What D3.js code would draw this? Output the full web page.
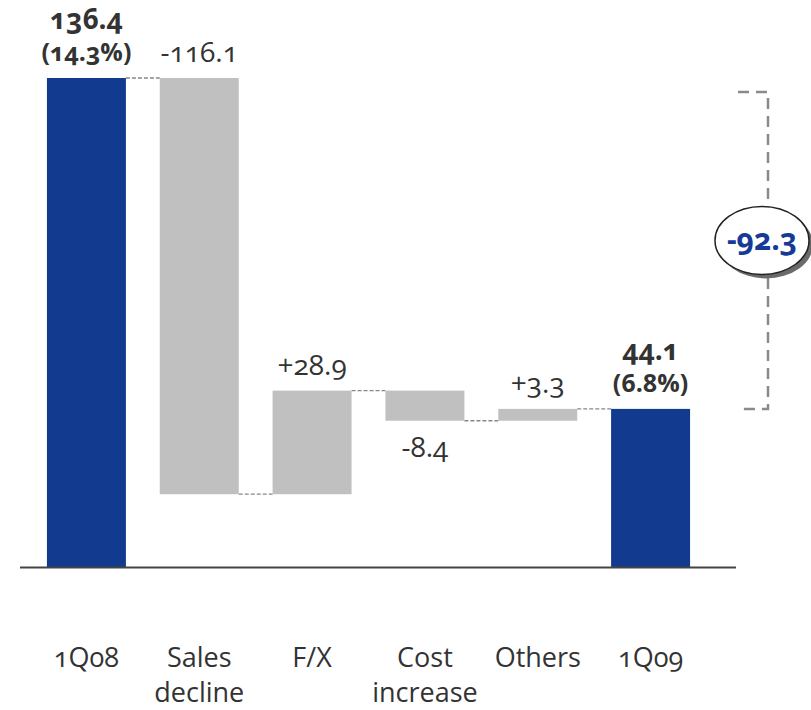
<!DOCTYPE html>
<html>
<head>
<meta charset="utf-8">
<script src="https://cdn.jsdelivr.net/npm/d3@7"></script>
<style>
  html, body { margin: 0; padding: 0; background: #fff; }
  svg { display: block; font-family: "Open Sans", "Noto Sans", sans-serif; font-variant-numeric: oldstyle-nums; }
</style>
</head>
<body>
<svg id="chart" width="811" height="710"></svg>
<script>
// Operating profit bridge, 1Q08 -> 1Q09
const categories = ["1Q08", "Sales decline", "F/X", "Cost increase", "Others", "1Q09"];
const values     = [136.4, -116.1, 28.9, -8.4, 3.3, 44.1];
const kinds      = ["total", "delta", "delta", "delta", "delta", "total"];
const margins    = ["14.3%", null, null, null, null, "6.8%"];
const netChange  = -92.3;

const svg = d3.select("#chart");

const x = d3.scaleBand()
  .domain(categories)
  .range([30, 707])
  .paddingInner(0.3)
  .paddingOuter(0.15);

const y = d3.scaleLinear()
  .domain([0, 136.4])
  .range([567, 78]);

// Bar extents from running totals
let running = 0;
const bars = categories.map((c, i) => {
  let from, to;
  if (kinds[i] === "total") { from = 0; to = values[i]; running = values[i]; }
  else { from = running; to = running + values[i]; running = to; }
  return { cat: c, value: values[i], kind: kinds[i], margin: margins[i], from, to, level: running };
});

const blue = "#123a8f", grey = "#c0c0c0", ink = "#333";

// Dashed connectors between consecutive bars
for (let i = 0; i < bars.length - 1; i++) {
  const lv = y(bars[i].level);
  svg.append("line")
    .attr("x1", x(bars[i].cat) + x.bandwidth())
    .attr("x2", x(bars[i + 1].cat))
    .attr("y1", lv).attr("y2", lv)
    .attr("stroke", "#888").attr("stroke-width", 1.3)
    .attr("stroke-dasharray", "4,2");
}

// Bars
svg.selectAll("rect.bar").data(bars).enter().append("rect")
  .attr("class", "bar")
  .attr("x", d => x(d.cat))
  .attr("width", x.bandwidth())
  .attr("y", d => y(Math.max(d.from, d.to)))
  .attr("height", d => Math.abs(y(d.from) - y(d.to)))
  .attr("fill", d => d.kind === "total" ? blue : grey);

// Baseline
svg.append("line")
  .attr("x1", 20).attr("x2", 736)
  .attr("y1", y(0) + 0.5).attr("y2", y(0) + 0.5)
  .attr("stroke", "#444").attr("stroke-width", 2);

// Values with a plain hyphen for negatives
const fmt1 = d3.format(".1f");
const fmt = v => fmt1(v).replace("\u2212", "-");
const plotH = y(0) - y(y.domain()[1]);

bars.forEach(d => {
  const cx = x(d.cat) + x.bandwidth() / 2;
  const top = y(Math.max(d.from, d.to));
  const bottom = y(Math.min(d.from, d.to));
  if (d.kind === "total") {
    svg.append("text").attr("x", cx).attr("y", top - 17)
      .attr("text-anchor", "middle").attr("font-size", 25).attr("font-weight", 700)
      .attr("fill", ink).text("(" + d.margin + ")");
    svg.append("text").attr("x", cx).attr("y", top - 49)
      .attr("text-anchor", "middle").attr("font-size", 28).attr("font-weight", 700)
      .attr("fill", ink).text(fmt(d.value));
  } else {
    const txt = (d.value > 0 ? "+" : "") + fmt(d.value);
    const tall = (bottom - top) > plotH / 2;
    const above = d.value > 0 || tall;
    svg.append("text").attr("x", cx)
      .attr("y", above ? top - 16 : bottom + 36)
      .attr("text-anchor", "middle").attr("font-size", 28).attr("font-weight", 500)
      .attr("fill", ink).text(txt);
  }
});

// Category labels, one word per line
bars.forEach(d => {
  const cx = x(d.cat) + x.bandwidth() / 2;
  d.cat.split(" ").forEach((w, k) => {
    svg.append("text").attr("x", cx).attr("y", 667 + k * 35)
      .attr("text-anchor", "middle").attr("font-size", 27)
      .attr("fill", ink).text(w);
  });
});

// Net change bracket with callout
const bx = 768, bTop = y(values[0]) + 14, bBot = y(values[values.length - 1]);
svg.append("path")
  .attr("d", `M${bx - 30},${bTop} H${bx} V${bBot} H${bx - 30}`)
  .attr("fill", "none").attr("stroke", "#8a8a8a").attr("stroke-width", 2.5)
  .attr("stroke-dasharray", "11,7");

const ey = (bTop + bBot) / 2 - 10;
svg.append("ellipse").attr("cx", bx - 6 + 4).attr("cy", ey + 4)
  .attr("rx", 47).attr("ry", 34).attr("fill", "#6a6a6a");
svg.append("ellipse").attr("cx", bx - 6).attr("cy", ey)
  .attr("rx", 47).attr("ry", 34).attr("fill", "#fff")
  .attr("stroke", "#222").attr("stroke-width", 1.5);
svg.append("text").attr("x", bx - 6).attr("y", ey + 10)
  .attr("text-anchor", "middle").attr("font-size", 30).attr("font-weight", 700)
  .attr("fill", "#163a96").text(fmt(netChange));
</script>
</body>
</html>
